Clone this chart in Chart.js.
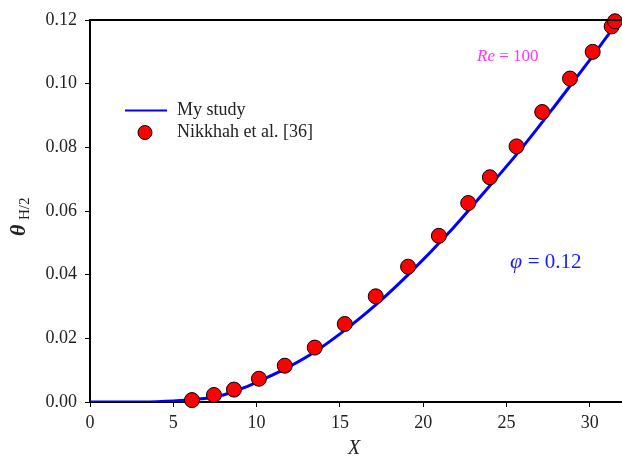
<!DOCTYPE html>
<html>
<head>
<meta charset="utf-8">
<title>theta H/2 vs X</title>
<script src="https://cdn.jsdelivr.net/npm/chart.js@4/dist/chart.umd.min.js"></script>
<style>
  html, body { margin: 0; padding: 0; background: #fff; }
  #wrap { width: 622px; height: 458px; }
</style>
</head>
<body>
<div id="wrap"><canvas id="chart" width="622" height="458"></canvas></div>
<script>
// My study (solid line)
const studyX = [0, 2, 4, 5, 6, 7, 8, 9, 10, 11.7, 13.5, 15.2, 17.15, 19.1, 21.7, 23.1, 26, 28, 30, 31.5, 31.93];
const studyY = [0, 0, 0.0001, 0.0003, 0.0007, 0.0012, 0.0022, 0.0040, 0.0062, 0.0104, 0.0158, 0.0222, 0.0305, 0.0400, 0.0541, 0.0625, 0.0803, 0.0937, 0.1075, 0.1180, 0.1205];

// Nikkhah et al. [36] (markers)
const refX = [6.12, 7.44, 8.64, 10.14, 11.69, 13.49, 15.29, 17.15, 19.09, 20.94, 22.70, 24.0, 25.60, 27.14, 28.81, 30.17, 31.31, 31.51];
const refY = [0.0006, 0.0022, 0.0039, 0.0073, 0.0114, 0.0171, 0.0245, 0.0332, 0.0425, 0.0522, 0.0625, 0.0706, 0.0803, 0.0911, 0.1016, 0.1100, 0.1180, 0.1196];

const xTicks = [0, 5, 10, 15, 20, 25, 30];
const yTicks = [0, 0.02, 0.04, 0.06, 0.08, 0.10, 0.12];

const serif = "'Liberation Serif', 'Times New Roman', serif";

// top frame line, axis titles, annotations and legend
const extras = {
  id: 'extras',
  afterDraw(chart) {
    const ctx = chart.ctx;
    const a = chart.chartArea;
    ctx.save();
    ctx.strokeStyle = '#000';
    ctx.lineWidth = 2;
    ctx.beginPath();
    ctx.moveTo(a.left - 1, a.top);
    ctx.lineTo(a.right, a.top);
    ctx.stroke();

    // x title
    ctx.fillStyle = '#222';
    ctx.font = 'italic 20px ' + serif;
    ctx.textAlign = 'center';
    ctx.textBaseline = 'middle';
    ctx.fillText('X', 354, 449);

    // y title theta_{H/2}
    ctx.save();
    ctx.translate(25, 227);
    ctx.rotate(-Math.PI / 2);
    ctx.textAlign = 'left';
    ctx.textBaseline = 'alphabetic';
    ctx.font = 'italic bold 22px ' + serif;
    ctx.fillText('\u03b8', -9, 0);
    ctx.font = '15px ' + serif;
    ctx.fillText('H/2', 7, 4);
    ctx.restore();

    // Re = 100
    ctx.textAlign = 'left';
    ctx.textBaseline = 'middle';
    ctx.fillStyle = '#ff33ff';
    ctx.font = 'italic 17px ' + serif;
    ctx.fillText('Re', 477, 57);
    let w = ctx.measureText('Re ').width;
    ctx.font = '17px ' + serif;
    ctx.fillText('= 100', 477 + w, 57);

    // phi = 0.12
    ctx.fillStyle = '#1a1aff';
    ctx.font = 'italic 22px ' + serif;
    ctx.fillText('\u03c6', 510, 262);
    w = ctx.measureText('\u03c6 ').width;
    ctx.font = '21px ' + serif;
    ctx.fillText('= 0.12', 510 + w, 262);

    // legend
    const ds = chart.data.datasets;
    ctx.strokeStyle = ds[0].borderColor;
    ctx.lineWidth = 2;
    ctx.beginPath();
    ctx.moveTo(125, 110.5);
    ctx.lineTo(167, 110.5);
    ctx.stroke();
    ctx.fillStyle = ds[1].backgroundColor;
    ctx.strokeStyle = ds[1].borderColor;
    ctx.lineWidth = 1;
    ctx.beginPath();
    ctx.arc(145, 132.5, 7, 0, Math.PI * 2);
    ctx.fill();
    ctx.stroke();
    ctx.fillStyle = '#222';
    ctx.font = '18px ' + serif;
    ctx.fillText(ds[0].label, 177, 110);
    ctx.fillText(ds[1].label, 177, 132);
    ctx.restore();
  }
};

new Chart(document.getElementById('chart'), {
  type: 'scatter',
  data: {
    datasets: [
      {
        label: 'My study',
        data: studyX.map((x, i) => ({ x: x, y: studyY[i] })),
        showLine: true,
        borderColor: '#0000ff',
        borderWidth: 3,
        pointRadius: 0,
        cubicInterpolationMode: 'monotone',
        order: 2
      },
      {
        label: 'Nikkhah et al. [36]',
        data: refX.map((x, i) => ({ x: x, y: refY[i] })),
        backgroundColor: '#ff0000',
        borderColor: '#000',
        borderWidth: 1,
        pointRadius: 7.5,
        clip: false,
        order: 1
      }
    ]
  },
  plugins: [extras],
  options: {
    responsive: false,
    animation: false,
    layout: { autoPadding: false, padding: { top: 20, right: 0, left: 0, bottom: 0 } },
    plugins: { legend: { display: false }, tooltip: { enabled: false } },
    scales: {
      x: {
        type: 'linear',
        min: 0,
        max: 31.93,
        afterFit(scale) { scale.height = 56; scale.paddingRight = 0; scale.paddingLeft = 0; },
        afterBuildTicks(scale) { scale.ticks = xTicks.map(v => ({ value: v })); },
        border: { color: '#000', width: 2 },
        grid: { drawOnChartArea: false, color: '#000', tickLength: 5, tickWidth: 1 },
        ticks: { color: '#222', font: { family: serif, size: 18 }, padding: 5, maxRotation: 0 }
      },
      y: {
        min: 0,
        max: 0.12,
        afterFit(scale) { scale.width = 90; scale.paddingTop = 0; scale.paddingBottom = 0; },
        afterBuildTicks(scale) { scale.ticks = yTicks.map(v => ({ value: v })); },
        border: { color: '#000', width: 2 },
        grid: { drawOnChartArea: false, color: '#000', tickLength: 5, tickWidth: 1 },
        ticks: {
          color: '#222',
          font: { family: serif, size: 18 },
          padding: 8,
          callback: v => v.toFixed(2)
        }
      }
    }
  }
});
</script>
</body>
</html>
